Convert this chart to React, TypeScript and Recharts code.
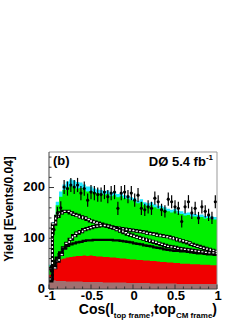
import React from 'react';
import {
  ComposedChart,
  Area,
  Line,
  Scatter,
  ErrorBar,
  XAxis,
  YAxis,
  ReferenceLine,
} from 'recharts';

// 50 bins of width 0.04 between -1 and 1
const binEdges = Array.from({ length: 51 }, (_, i) => Math.round((-1 + i * 0.04) * 100) / 100);
const binCenters = Array.from({ length: 50 }, (_, i) => Math.round((-0.98 + i * 0.04) * 100) / 100);

// cumulative tops of the stacked MC
const brownTop = [17, 17, 16, 16, 16, 15, 15, 15, 15, 15, 14, 14, 14, 14, 14, 14, 13, 13, 13, 13, 13, 13, 13, 12, 12, 12, 12, 12, 12, 12, 11, 11, 11, 11, 11, 11, 11, 11, 10, 10, 10, 10, 10, 10, 10, 10, 10, 10, 10, 10];
const redTop = [28, 45, 55, 58, 60, 62, 63, 64, 65, 65, 66, 65, 66, 65, 64, 64, 63, 63, 62, 62, 61, 60, 60, 59, 58, 58, 57, 57, 56, 56, 55, 55, 54, 53, 53, 52, 52, 51, 51, 50, 50, 50, 49, 49, 49, 48, 48, 48, 47, 47];
const greenTop = [45, 125, 165, 182, 195, 200, 203, 200, 198, 199, 195, 192, 193, 190, 189, 188, 186, 187, 183, 185, 181, 183, 179, 178, 175, 173, 169, 171, 165, 163, 165, 161, 158, 159, 156, 153, 151, 153, 149, 148, 145, 146, 143, 143, 141, 142, 139, 140, 138, 137];
const cyanTop = [48, 132, 172, 192, 206, 212, 216, 214, 211, 210, 206, 202, 202, 198, 196, 195, 193, 194, 190, 191, 187, 189, 185, 184, 181, 179, 174, 177, 171, 169, 171, 167, 164, 164, 161, 158, 156, 158, 154, 153, 150, 151, 148, 148, 146, 147, 144, 145, 143, 142];

// overlaid outlines
const solidLine = [15, 45, 62, 72, 80, 85, 88, 90, 92, 93, 95, 96, 96, 97, 97, 97, 97, 97, 97, 96, 96, 95, 94, 93, 92, 90, 89, 88, 86, 85, 84, 82, 81, 80, 78, 77, 76, 75, 75, 74, 74, 73, 72, 71, 70, 70, 69, 68, 68, 67];
const dashedUpper = [40, 128, 143, 150, 153, 153, 150, 147, 145, 142, 140, 137, 134, 132, 130, 128, 126, 124, 122, 121, 120, 119, 118, 117, 116, 115, 114, 113, 112, 110, 109, 108, 106, 105, 104, 103, 101, 99, 97, 95, 93, 91, 88, 86, 84, 82, 80, 78, 76, 74];
const dashedLower = [20, 42, 55, 68, 81, 90, 98, 105, 110, 113, 117, 119, 121, 123, 124, 125, 125, 124, 122, 120, 117, 114, 111, 108, 106, 104, 102, 100, 98, 96, 94, 92, 90, 88, 86, 84, 83, 82, 80, 79, 78, 77, 76, 75, 74, 73, 72, 71, 71, 70];

// data with stat. errors
const dataYield = [40, 117, 150, 160, 201, 198, 205, 201, 205, 189, 198, 175, 191, 189, 186, 186, 191, 182, 189, 191, 159, 189, 191, 182, 189, 175, 185, 159, 156, 162, 159, 179, 172, 156, 153, 177, 172, 162, 159, 133, 162, 172, 150, 159, 140, 162, 153, 146, 140, 172];
const dataErr = [7, 11, 12, 13, 14, 14, 14, 14, 14, 14, 14, 13, 14, 14, 14, 14, 14, 13, 14, 14, 13, 14, 14, 13, 14, 13, 14, 13, 12, 13, 13, 13, 13, 12, 12, 13, 13, 13, 13, 12, 13, 13, 12, 13, 12, 13, 12, 12, 12, 13];

const xTicks = [-1, -0.9, -0.8, -0.7, -0.6, -0.5, -0.4, -0.3, -0.2, -0.1, 0, 0.1, 0.2, 0.3, 0.4, 0.5, 0.6, 0.7, 0.8, 0.9, 1];
const xTickLabels: Record<string, string> = { '-1': '-1', '-0.5': '-0.5', '0': '0', '0.5': '0.5', '1': '1' };
const yTicks = [0, 20, 40, 60, 80, 100, 120, 140, 160, 180, 200, 220, 240, 260];
const yTickLabels: Record<string, string> = { '0': '0', '100': '100', '200': '200' };

const FONT = '"Liberation Sans", Arial, Helvetica, sans-serif';

const histRows = binEdges.map((x, i) => {
  const j = Math.min(i, 49);
  return {
    x,
    brown: brownTop[j],
    red: redTop[j],
    green: greenTop[j],
    cyan: cyanTop[j],
    solid: solidLine[j],
    upper: dashedUpper[j],
    lower: dashedLower[j],
  };
});

const points = binCenters.map((x, i) => ({ x, y: dataYield[i], err: dataErr[i] }));

const XTick = (props: any) => {
  const { x, y, payload } = props;
  const key = String(Math.round(payload.value * 10) / 10);
  const label = xTickLabels[key];
  const len = label !== undefined ? 4.5 : 2.5;
  return (
    <g>
      <line x1={x} x2={x} y1={y} y2={y - len} stroke="#333" strokeWidth={1} />
      {label !== undefined && (
        <text x={x + 1} y={y + 10.5} textAnchor="middle" fontFamily={FONT} fontWeight="bold" fontSize={13} fill="#000">
          {label}
        </text>
      )}
    </g>
  );
};

const YTick = (props: any) => {
  const { x, y, payload } = props;
  const label = yTickLabels[String(payload.value)];
  const len = label !== undefined ? 5 : 2.5;
  return (
    <g>
      <line x1={x} x2={x + len} y1={y} y2={y} stroke="#333" strokeWidth={1} />
      {label !== undefined && (
        <text x={x - 4} y={y + 3.5} textAnchor="end" fontFamily={FONT} fontWeight="bold" fontSize={13} fill="#000">
          {label}
        </text>
      )}
    </g>
  );
};

export default function App() {
  return (
    <div style={{ position: 'absolute', left: 0, top: 0, width: 249, height: 323, background: '#fff' }}>
      <ComposedChart
        width={249}
        height={323}
        data={histRows}
        margin={{ top: 152, right: 32, left: 0, bottom: 0 }}
      >
        <XAxis
          type="number"
          dataKey="x"
          domain={[-1, 1]}
          ticks={xTicks}
          interval={0}
          tickSize={0}
          tickMargin={0}
          tickLine={false}
          tick={<XTick />}
          axisLine={{ stroke: '#444' }}
          height={34}
        />
        <YAxis
          type="number"
          domain={[0, 270]}
          ticks={yTicks}
          interval={0}
          tickSize={0}
          tickMargin={0}
          tickLine={false}
          tick={<YTick />}
          axisLine={{ stroke: '#444' }}
          width={49}
        />

        <Area type="stepAfter" dataKey="cyan" stroke="none" fill="#22e8ff" fillOpacity={1} isAnimationActive={false} />
        <Area type="stepAfter" dataKey="green" stroke="none" fill="#00f000" fillOpacity={1} isAnimationActive={false} />
        <Area type="stepAfter" dataKey="red" stroke="none" fill="#f00000" fillOpacity={1} isAnimationActive={false} />
        <Area type="stepAfter" dataKey="brown" stroke="none" fill="#a07070" fillOpacity={1} isAnimationActive={false} />

        <Line type="stepAfter" dataKey="upper" stroke="#000" strokeWidth={3.2} dot={false} isAnimationActive={false} />
        <Line type="stepAfter" dataKey="upper" stroke="#fff" strokeWidth={1.4} strokeDasharray="2 2" dot={false} isAnimationActive={false} />
        <Line type="stepAfter" dataKey="lower" stroke="#000" strokeWidth={3.2} dot={false} isAnimationActive={false} />
        <Line type="stepAfter" dataKey="lower" stroke="#fff" strokeWidth={1.4} strokeDasharray="2 2" dot={false} isAnimationActive={false} />
        <Line type="stepAfter" dataKey="solid" stroke="#000" strokeWidth={2.2} dot={false} isAnimationActive={false} />

        <Scatter
          data={points}
          dataKey="y"
          fill="#000"
          isAnimationActive={false}
          shape={(p: any) => <circle cx={p.cx} cy={p.cy} r={1.6} fill="#000" />}
        >
          <ErrorBar dataKey="err" direction="y" width={0} stroke="#000" strokeWidth={1.2} isAnimationActive={false} />
        </Scatter>

        <ReferenceLine y={270} stroke="#999" strokeWidth={1} />
        <ReferenceLine x={1} stroke="#999" strokeWidth={1} />
      </ComposedChart>

      <svg
        width={249}
        height={323}
        style={{ position: 'absolute', left: 0, top: 0, pointerEvents: 'none' }}
      >
        <text
          transform="translate(13,209) rotate(-90)"
          textAnchor="middle"
          fontFamily={FONT}
          fontWeight="bold"
          fontSize={12}
          fill="#000"
        >
          Yield [Events/0.04]
        </text>
        <text x={217} y={314} textAnchor="end" fontFamily={FONT} fontWeight="bold" fontSize={14} fill="#000">
          Cos(l
          <tspan fontSize={8} dy={4}>top frame</tspan>
          <tspan dy={-4}>,top</tspan>
          <tspan fontSize={8} dy={4}>CM frame</tspan>
          <tspan dy={-4}>)</tspan>
        </text>
        <text x={53} y={165} fontFamily={FONT} fontWeight="bold" fontSize={13} fill="#000">
          (b)
        </text>
        <text x={213} y={166} textAnchor="end" fontFamily={FONT} fontWeight="bold" fontSize={13} fill="#000">
          DØ 5.4 fb
          <tspan fontSize={8} dy={-6}>-1</tspan>
        </text>
      </svg>
    </div>
  );
}
